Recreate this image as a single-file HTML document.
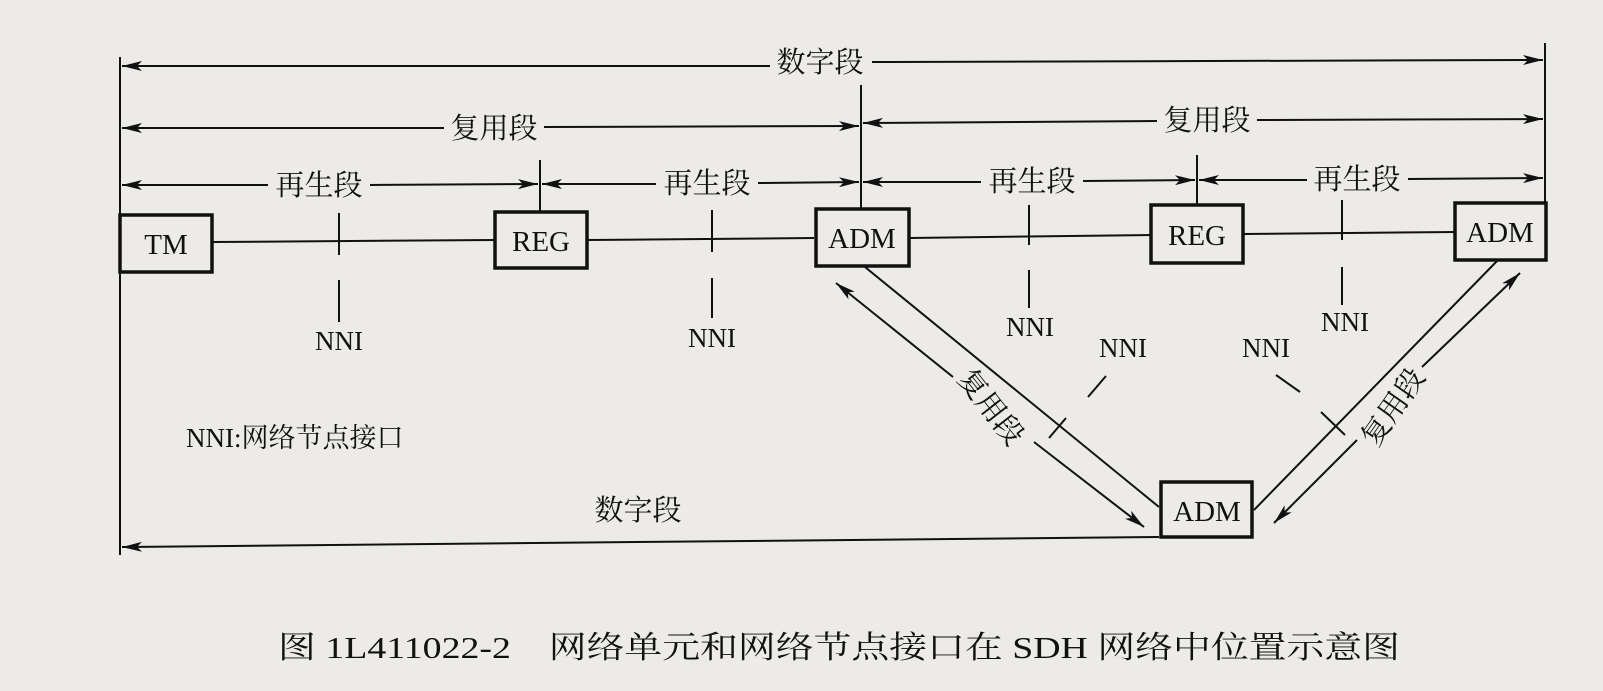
<!DOCTYPE html>
<html><head><meta charset="utf-8"><style>
html,body{margin:0;padding:0;background:#ecebe8;}
svg{display:block;}
.c{font-family:"Liberation Serif","Noto Serif CJK SC","Noto Sans CJK SC",serif;fill:#111;}
.s{font-family:"Liberation Serif",serif;fill:#111;}
</style></head><body>
<svg width="1603" height="691" viewBox="0 0 1603 691" xmlns="http://www.w3.org/2000/svg">
<defs>
<marker id="a" viewBox="0 0 20 10" refX="20" refY="5" markerWidth="20" markerHeight="10" markerUnits="userSpaceOnUse" orient="auto-start-reverse">
<path d="M0,0 L20,5 L0,10 L5,5 z" fill="#111"/></marker>
</defs>
<rect width="1603" height="691" fill="#ecebe8"/>
<g stroke="#111" stroke-width="2" fill="none">
<line x1="120" y1="57" x2="120" y2="555"/>
<line x1="1545" y1="43" x2="1545" y2="203"/>
<line x1="861" y1="85" x2="861" y2="209"/>
<line x1="540" y1="160" x2="540" y2="212"/>
<line x1="1197" y1="155" x2="1197" y2="205"/>
<!-- top digital -->
<line x1="770" y1="66" x2="122" y2="66" marker-end="url(#a)"/>
<line x1="872" y1="62" x2="1543" y2="60" marker-end="url(#a)"/>
<!-- multiplex -->
<line x1="444" y1="128" x2="122" y2="128" marker-end="url(#a)"/>
<line x1="544" y1="127" x2="859" y2="126" marker-end="url(#a)"/>
<line x1="1157" y1="121" x2="863" y2="123" marker-end="url(#a)"/>
<line x1="1257" y1="120" x2="1543" y2="119" marker-end="url(#a)"/>
<!-- regen -->
<line x1="268" y1="185" x2="122" y2="185" marker-end="url(#a)"/>
<line x1="370" y1="185" x2="538" y2="184" marker-end="url(#a)"/>
<line x1="656" y1="184" x2="542" y2="184" marker-end="url(#a)"/>
<line x1="758" y1="183" x2="859" y2="182" marker-end="url(#a)"/>
<line x1="981" y1="182" x2="863" y2="182" marker-end="url(#a)"/>
<line x1="1083" y1="181" x2="1195" y2="180" marker-end="url(#a)"/>
<line x1="1307" y1="180" x2="1199" y2="180" marker-end="url(#a)"/>
<line x1="1408" y1="179" x2="1543" y2="178" marker-end="url(#a)"/>
<!-- main line -->
<line x1="212" y1="242" x2="495" y2="240"/>
<line x1="587" y1="240" x2="814" y2="238"/>
<line x1="909" y1="238" x2="1151" y2="235"/>
<line x1="1243" y1="234" x2="1455" y2="232"/>
<!-- NNI ticks -->
<line x1="339" y1="213" x2="339" y2="255"/><line x1="339" y1="280" x2="339" y2="322"/>
<line x1="712" y1="210" x2="712" y2="252"/><line x1="712" y1="278" x2="712" y2="318"/>
<line x1="1029" y1="205" x2="1029" y2="245"/><line x1="1029" y1="270" x2="1029" y2="308"/>
<line x1="1342" y1="200" x2="1342" y2="240"/><line x1="1342" y1="267" x2="1342" y2="305"/>
<line x1="1106" y1="376" x2="1088" y2="397"/>
<line x1="1276" y1="375" x2="1300" y2="392"/>
<!-- diagonals -->
<line x1="865" y1="267" x2="1159" y2="507"/>
<line x1="1498" y1="260" x2="1254" y2="510"/>
<line x1="953" y1="377" x2="836" y2="283" marker-end="url(#a)"/>
<line x1="1034" y1="442" x2="1144" y2="527" marker-end="url(#a)"/>
<line x1="1422" y1="367" x2="1520" y2="273" marker-end="url(#a)"/>
<line x1="1357" y1="440" x2="1274" y2="523" marker-end="url(#a)"/>
<line x1="1049" y1="438" x2="1066" y2="418"/>
<line x1="1321" y1="412" x2="1345" y2="435"/>
<!-- bottom digital -->
<line x1="1159" y1="537" x2="122" y2="547" marker-end="url(#a)"/>
</g>
<g stroke="#111" stroke-width="3.5" fill="#ecebe8">
<rect x="120" y="215" width="92" height="57"/>
<rect x="495" y="212" width="92" height="56"/>
<rect x="816" y="209" width="93" height="57"/>
<rect x="1151" y="205" width="92" height="58"/>
<rect x="1455" y="203" width="91" height="57"/>
<rect x="1161" y="482" width="91" height="55"/>
</g>
<g class="s" font-size="29" text-anchor="middle">
<text x="166" y="254">TM</text>
<text x="541" y="251">REG</text>
<text x="862" y="248">ADM</text>
<text x="1197" y="245">REG</text>
<text x="1500" y="242">ADM</text>
<text x="1207" y="521">ADM</text>
</g>
<g class="s" font-size="27" text-anchor="middle">
<text x="339" y="350">NNI</text>
<text x="712" y="347">NNI</text>
<text x="1030" y="336">NNI</text>
<text x="1345" y="331">NNI</text>
<text x="1123" y="357">NNI</text>
<text x="1266" y="357">NNI</text>
</g>
<g class="c" font-size="29" text-anchor="middle">
<text x="820" y="72">数字段</text>
<text x="494" y="138">复用段</text>
<text x="1207" y="130">复用段</text>
<text x="319" y="195">再生段</text>
<text x="707" y="193">再生段</text>
<text x="1032" y="191">再生段</text>
<text x="1357" y="189">再生段</text>
<text x="638" y="520">数字段</text>
<text transform="translate(991,407) rotate(52)" dy="10">复用段</text>
<text transform="translate(1393,407) rotate(-55)" dy="10">复用段</text>
</g>
<text class="c" x="186" y="447" font-size="27">NNI:网络节点接口</text>
<text class="c" x="278" y="658" font-size="31" textLength="1122" lengthAdjust="spacingAndGlyphs">图 1L411022-2　网络单元和网络节点接口在 SDH 网络中位置示意图</text>
</svg>
</body></html>
